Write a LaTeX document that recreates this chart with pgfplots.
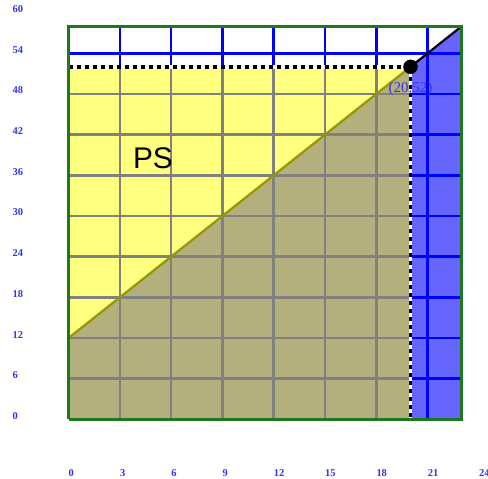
\documentclass[border=0pt]{standalone}
\usepackage{pgfplots}
\pgfplotsset{compat=1.18}
\usepackage{fontspec}
\setmainfont{Liberation Serif}
\newfontfamily\sansf{Liberation Sans}
\definecolor{psyellow}{RGB}{255,255,128}
\definecolor{olivefill}{RGB}{179,176,126}
\definecolor{bluefill}{RGB}{102,102,255}
\definecolor{gridgray}{RGB}{128,128,128}
\definecolor{gridblue}{RGB}{0,0,255}
\definecolor{framegreen}{RGB}{30,120,30}
\definecolor{supply}{RGB}{150,150,0}
\definecolor{ticktext}{RGB}{50,50,240}
\begin{document}
\begin{tikzpicture}
\useasboundingbox (-68.5bp,-59.6bp) rectangle (419.5bp,419.4bp);
\begin{axis}[
  scale only axis,
  width=410.4bp, height=406.8bp,
  xmin=0, xmax=24, ymin=0, ymax=60,
  clip=false,
  axis line style={draw=none},
  tick style={draw=none},
  xtick={0,3,6,9,12,15,18,21,24},
  xticklabels={0,3,6,9,12,15,18,21,24},
  ytick={0,6,12,18,24,30,36,42,48,54,60},
  yticklabels={0,6,12,18,24,30,36,42,48,54,60},
  xticklabel style={anchor=base west, inner sep=0pt, yshift=-56.6bp, font=\fontsize{10.5}{12}\selectfont\bfseries, text=ticktext},
  yticklabel style={anchor=base west, inner sep=0pt, xshift=-56bp, font=\fontsize{10.5}{12}\selectfont\bfseries, text=ticktext},
]
% fills
\addplot[draw=none, fill=psyellow] coordinates {(0,12) (0,52) (20,52) (0,12)};
\addplot[draw=none, fill=olivefill] coordinates {(0,0) (20,0) (20,52) (0,12) (0,0)};
\addplot[draw=none, fill=bluefill] coordinates {(20,0) (23,0) (23,58) (20,52) (20,0)};
% blue grid everywhere
\pgfplotsinvokeforeach{3,6,...,21}{
  \draw[gridblue, line width=2.5bp] (axis cs:#1,0) -- (axis cs:#1,58);
}
\pgfplotsinvokeforeach{6,12,...,54}{
  \draw[gridblue, line width=2.5bp] (axis cs:0,#1) -- (axis cs:23,#1);
}
% gray grid within the surplus regions
\pgfplotsinvokeforeach{3,6,...,18}{
  \draw[gridgray, line width=2.5bp] (axis cs:#1,0) -- (axis cs:#1,52);
}
\pgfplotsinvokeforeach{6,12,...,48}{
  \draw[gridgray, line width=2.5bp] (axis cs:0,#1) -- (axis cs:20,#1);
}
% supply line
\addplot[supply, line width=2.2bp] coordinates {(0,12) (20,52)};
\addplot[black, line width=2.2bp] coordinates {(20,52) (23,58)};
% dashed guides
\addplot[white, line width=3.5bp] coordinates {(0,52) (20,52) (20,0)};
\addplot[black, line width=3.5bp, dash pattern=on 4.5bp off 3.5bp] coordinates {(0,52) (20,52) (20,0)};
% frame
\addplot[framegreen, line width=3bp] coordinates {(0,0) (23,0) (23,58) (0,58) (0,0)};
% point
\addplot[only marks, mark=*, mark size=7bp, black] coordinates {(20,52)};
\node[anchor=base, inner sep=0pt, text=ticktext, font=\fontsize{15}{18}\selectfont, yshift=-26bp] at (axis cs:20,52) {(20,52)};
\node[font=\sansf\fontsize{30}{36}\selectfont] at (axis cs:4.94,38.55) {PS};
\end{axis}
\end{tikzpicture}
\end{document}
